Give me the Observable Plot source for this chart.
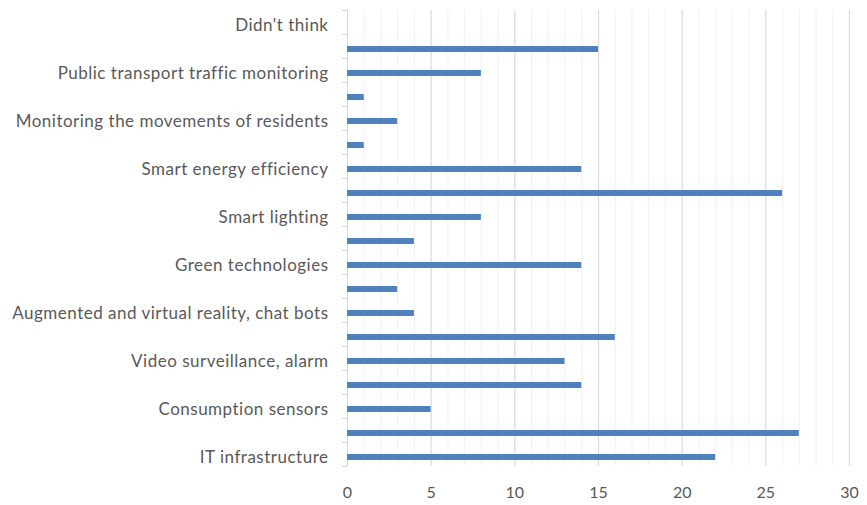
<!DOCTYPE html>
<html>
<head>
<meta charset="utf-8">
<script src="https://cdn.jsdelivr.net/npm/d3@7"></script>
<script src="https://cdn.jsdelivr.net/npm/@observablehq/plot@0.6"></script>
<style>
  html, body { margin: 0; padding: 0; background: #fff; }
  #chart { width: 867px; height: 505px; }
  .ylabels text { letter-spacing: 0.5px; }
</style>
</head>
<body>
<div id="chart"></div>
<script>
// Categories listed from top to bottom; empty strings are rows whose labels are skipped on the axis.
const categories = [
  "Didn't think",
  "",
  "Public transport traffic monitoring",
  "",
  "Monitoring the movements of residents",
  "",
  "Smart energy efficiency",
  "",
  "Smart lighting",
  "",
  "Green technologies",
  "",
  "Augmented and virtual reality, chat bots",
  "",
  "Video surveillance, alarm",
  "",
  "Consumption sensors",
  "",
  "IT infrastructure"
];
const values = [0, 15, 8, 1, 3, 1, 14, 26, 8, 4, 14, 3, 4, 16, 13, 14, 5, 27, 22];
const xTicks = [0, 5, 10, 15, 20, 25, 30];
const minorTicks = d3.range(0, 31);

const rows = categories.map((label, i) => ({ idx: i, label, value: values[i] }));

const gridMajor = "#d9d9d9";
const gridMinor = "#f0f0f0";
const textColor = "#595959";

const chart = Plot.plot({
  width: 867,
  height: 505,
  marginLeft: 347,
  marginRight: 18,
  marginTop: 10,
  marginBottom: 39,
  style: { fontFamily: "Lato, 'Open Sans', sans-serif", fontSize: "16px", color: textColor, background: "#fff" },
  x: { domain: [0, 30], ticks: xTicks, label: null },
  y: { domain: rows.map(d => d.idx), padding: 0, label: null },
  marks: [
    Plot.gridX(minorTicks, { stroke: gridMinor, strokeOpacity: 1 }),
    Plot.gridX(xTicks, { stroke: gridMajor, strokeOpacity: 1 }),
    Plot.ruleX([0], { stroke: gridMajor }),
    Plot.barX(rows, { x: "value", y: "idx", fill: "#4f81bd", insetTop: 12, insetBottom: 6 }),
    Plot.axisX(xTicks, { tickSize: 0, tickPadding: 20, fill: textColor, label: null }),
    Plot.axisY({
      tickSize: 0, tickPadding: 19, dy: 3, fill: textColor, fontSize: 17, label: null,
      className: "ylabels", tickFormat: i => categories[i]
    }),
    // category separator ticks on the left of the axis line
    Plot.axisY({ tickSize: 5, dy: 12, stroke: gridMajor, tickFormat: () => "", label: null }),
    Plot.axisY([0], { tickSize: 5, dy: -12, stroke: gridMajor, tickFormat: () => "", label: null })
  ]
});

document.getElementById("chart").appendChild(chart);
</script>
</body>
</html>
